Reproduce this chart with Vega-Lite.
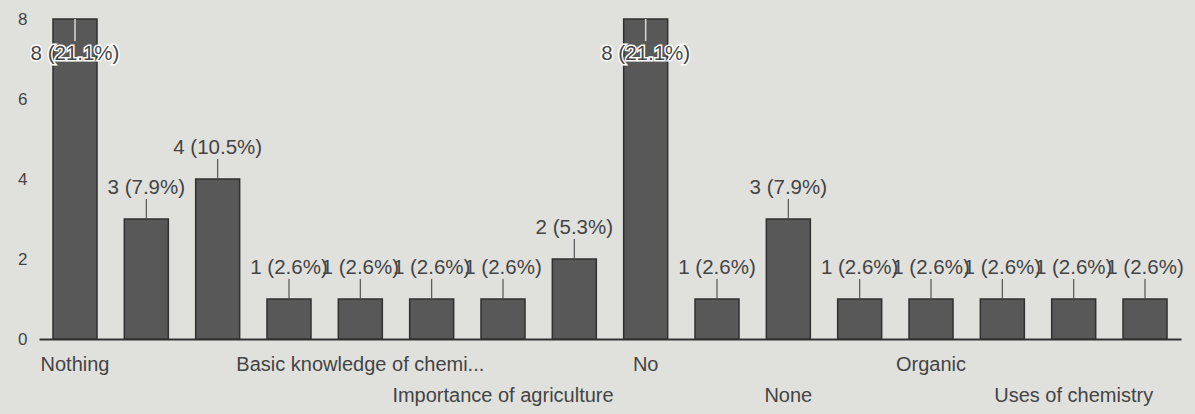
{
  "$schema": "https://vega.github.io/schema/vega-lite/v6.json",
  "autosize": "none",
  "width": 1142,
  "height": 320,
  "padding": {"left": 39, "top": 19, "right": 14, "bottom": 75},
  "background": "#e0e1dd",
  "config": {"view": {"stroke": null}, "font": "Liberation Sans"},
  "data": {
    "values": [
      {"answer": "Nothing", "count": 8, "label": "8 (21.1%)"},
      {"answer": "Response 2", "count": 3, "label": "3 (7.9%)"},
      {"answer": "Response 3", "count": 4, "label": "4 (10.5%)"},
      {"answer": "Response 4", "count": 1, "label": "1 (2.6%)"},
      {"answer": "Basic knowledge of chemistry", "count": 1, "label": "1 (2.6%)"},
      {"answer": "Response 6", "count": 1, "label": "1 (2.6%)"},
      {"answer": "Importance of agriculture", "count": 1, "label": "1 (2.6%)"},
      {"answer": "Response 8", "count": 2, "label": "2 (5.3%)"},
      {"answer": "No", "count": 8, "label": "8 (21.1%)"},
      {"answer": "Response 10", "count": 1, "label": "1 (2.6%)"},
      {"answer": "None", "count": 3, "label": "3 (7.9%)"},
      {"answer": "Response 12", "count": 1, "label": "1 (2.6%)"},
      {"answer": "Organic", "count": 1, "label": "1 (2.6%)"},
      {"answer": "Response 14", "count": 1, "label": "1 (2.6%)"},
      {"answer": "Uses of chemistry", "count": 1, "label": "1 (2.6%)"},
      {"answer": "Response 16", "count": 1, "label": "1 (2.6%)"}
    ]
  },
  "encoding": {
    "x": {
      "field": "answer",
      "type": "nominal",
      "sort": null,
      "scale": {"paddingInner": 0.383, "paddingOuter": 0.196},
      "axis": {
        "title": null,
        "labelAngle": 0,
        "labelOverlap": false,
        "labelLimit": 0,
        "labelBound": false,
        "ticks": false,
        "domainColor": "#333333",
        "domainWidth": 2,
        "labelFontSize": 20,
        "labelColor": "#444444",
        "labelPadding": 15,
        "labelLineHeight": 31,
        "labelBaseline": "top",
        "labelExpr": "indexof(['Nothing','Basic knowledge of chemistry','No','Organic'], datum.label) >= 0 ? truncate(datum.label, 27, 'right', '...') : (indexof(['Importance of agriculture','None','Uses of chemistry'], datum.label) >= 0 ? ['', datum.label] : '')"
      }
    },
    "y": {
      "field": "count",
      "type": "quantitative",
      "scale": {"domain": [0, 8], "nice": false},
      "axis": {
        "title": null,
        "values": [0, 2, 4, 6, 8],
        "grid": false,
        "domain": false,
        "ticks": false,
        "labelFontSize": 17,
        "labelColor": "#444444",
        "labelPadding": 12
      }
    }
  },
  "layer": [
    {
      "mark": {"type": "bar", "color": "#585858", "stroke": "#303030", "strokeWidth": 1.5}
    },
    {
      "transform": [{"filter": "datum.count < 8"}],
      "mark": {"type": "rule", "color": "#555555", "strokeWidth": 1.2, "y2Offset": -20},
      "encoding": {"y2": {"field": "count"}}
    },
    {
      "transform": [{"filter": "datum.count >= 8"}],
      "mark": {"type": "rule", "color": "#d8d8d8", "strokeWidth": 1.5, "y2Offset": 22},
      "encoding": {"y2": {"field": "count"}}
    },
    {
      "transform": [{"filter": "datum.count < 8"}],
      "mark": {"type": "text", "fontSize": 20.5, "color": "#444444", "baseline": "alphabetic", "dy": -25},
      "encoding": {"text": {"field": "label"}}
    },
    {
      "transform": [{"filter": "datum.count >= 8"}],
      "mark": {"type": "text", "fontSize": 20.5, "color": "#ffffff", "stroke": "#ffffff", "strokeWidth": 3, "baseline": "alphabetic", "dy": 41},
      "encoding": {"text": {"field": "label"}}
    },
    {
      "transform": [{"filter": "datum.count >= 8"}],
      "mark": {"type": "text", "fontSize": 20.5, "color": "#444444", "baseline": "alphabetic", "dy": 41},
      "encoding": {"text": {"field": "label"}}
    }
  ]
}
